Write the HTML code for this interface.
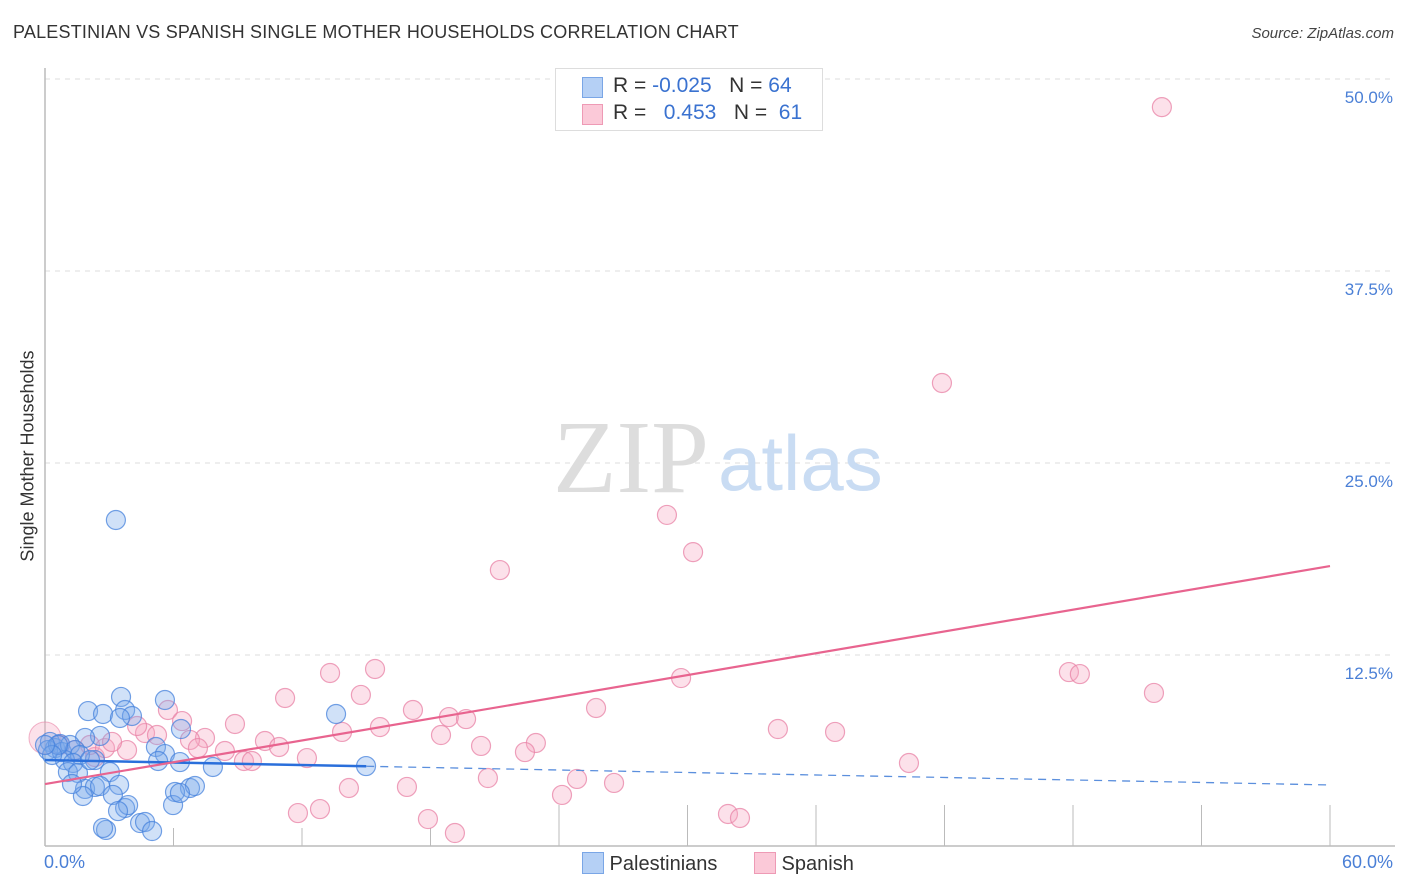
<!DOCTYPE html>
<html><head><meta charset="utf-8"><style>
body{margin:0;background:#fff;font-family:"Liberation Sans",sans-serif;}
#wrap{position:relative;width:1406px;height:892px;overflow:hidden}
.t{position:absolute;white-space:nowrap}
</style></head><body>
<div id="wrap">
<div class="t" style="left:13px;top:22px;font-size:18px;letter-spacing:0.2px;color:#333">PALESTINIAN VS SPANISH SINGLE MOTHER HOUSEHOLDS CORRELATION CHART</div>
<div class="t" style="right:12px;top:25px;font-size:15px;color:#444;font-style:italic">Source: ZipAtlas.com</div>
<svg id="svg" width="1406" height="892" style="position:absolute;left:0;top:0"></svg>
</div>
<script>
const xTicks=[0,6,12,18,24,30,36,42,48,54,60];
const yTicks=[12.5,25,37.5,50];
const yTickLabels=["12.5%","25.0%","37.5%","50.0%"];
const palX=[3.31,3.55,5.60,2.01,2.71,3.74,4.06,13.59,6.35,2.57,1.87,5.18,3.50,5.60,6.30,5.28,7.84,14.99,2.33,0.23,0.47,0.70,0.14,0.79,1.17,1.40,1.63,0.93,1.31,1.07,1.54,2.10,3.03,3.46,1.87,2.33,2.57,3.17,1.77,1.26,6.77,7.00,6.07,5.98,3.74,3.88,3.41,4.44,4.67,2.85,5.00,2.71,6.30,0.61,0.33,0.0];
const palY=[21.29,9.77,9.57,8.85,8.66,8.92,8.53,8.66,7.68,7.23,7.10,6.51,8.40,6.05,5.53,5.60,5.21,5.27,5.66,6.84,6.44,6.71,6.31,6.18,6.64,6.31,5.99,5.66,5.47,4.88,4.82,5.66,4.88,4.04,3.78,3.91,3.97,3.39,3.32,4.10,3.84,3.97,3.58,2.73,2.54,2.73,2.34,1.56,1.63,1.11,1.04,1.24,3.52,6.64,5.99,6.64];
const spaX=[52.15,41.88,29.04,30.26,21.24,15.41,13.31,29.70,47.81,48.32,51.78,11.21,14.75,17.18,25.73,18.86,19.66,5.74,6.40,8.87,15.64,13.87,18.49,34.22,36.89,4.67,5.23,10.27,7.47,6.77,8.40,10.93,7.14,3.83,20.36,22.92,22.41,12.23,9.29,9.66,40.34,20.68,24.84,26.57,16.90,14.19,24.14,12.84,11.81,31.89,32.45,17.88,19.14,0.70,1.40,2.33,2.10,2.80,3.13,4.30];
const spaY=[48.17,30.21,21.62,19.20,18.03,11.59,11.33,11.00,11.39,11.26,10.03,9.70,9.90,8.92,9.05,8.46,8.33,8.92,8.20,8.01,7.81,7.49,7.29,7.68,7.49,7.42,7.29,6.90,7.10,6.97,6.25,6.51,6.44,6.31,6.58,6.77,6.18,5.79,5.60,5.60,5.47,4.49,4.43,4.17,3.91,3.84,3.39,2.47,2.21,2.15,1.89,1.82,0.91,6.64,6.31,5.86,6.64,6.44,6.84,7.88];
const palTrend=[5.66,4.04]; const palSolidEnd=15;
const spaTrend=[4.10,18.29];
const sx=v=>45+v/60*1285, sy=v=>847-v/12.5*192;
const svg=document.getElementById('svg');const NS='http://www.w3.org/2000/svg';
function mk(tag,at,parent){const e=document.createElementNS(NS,tag);for(const k in at)e.setAttribute(k,at[k]);(parent||svg).appendChild(e);return e;}
yTicks.forEach((v,i)=>{
 const g=mk('line',{x1:45,x2:1395,y1:sy(v),y2:sy(v),stroke:'#ddd','stroke-dasharray':'5,5'});
 
 
 const t=mk('text',{x:1393,y:sy(v)+24,'text-anchor':'end','font-size':17,fill:'#4a7fd6','font-family':'Liberation Sans'});t.textContent=yTickLabels[i];
 
 
});
const ax=mk('line',{x1:45,x2:45,y1:68,y2:846,stroke:'#bbb','stroke-width':1.5});


const bx=mk('line',{x1:45,x2:1395,y1:846,y2:846,stroke:'#bbb','stroke-width':1.5});


xTicks.forEach(v=>{const tk=mk('line',{x1:sx(v),x2:sx(v),y1:v<=18?828:805,y2:846,stroke:'#bbb'});
 
 });
const wm1=mk('text',{x:553,y:492,'font-size':104,fill:'#ddd','font-family':'Liberation Serif'});wm1.textContent='ZIP';


const wm2=mk('text',{x:718,y:490,'font-size':78,fill:'#c9dcf3','font-family':'Liberation Sans'});wm2.textContent='atlas';


const big=mk('circle',{cx:sx(0),cy:sy(7.1),r:16,fill:'rgba(245,170,195,0.35)',stroke:'rgba(232,130,165,0.6)','stroke-width':1});


spaX.forEach((x,i)=>{const c=mk('circle',{cx:sx(x),cy:sy(spaY[i]),r:9.5,fill:'rgba(245,170,195,0.35)',stroke:'rgba(232,130,165,0.75)','stroke-width':1.2});
 
 });
palX.forEach((x,i)=>{const c=mk('circle',{cx:sx(x),cy:sy(palY[i]),r:9.5,fill:'rgba(120,170,235,0.35)',stroke:'rgba(70,130,220,0.75)','stroke-width':1.2});
 
 });
const pm=palTrend[0]+(palTrend[1]-palTrend[0])*palSolidEnd/60;
const l1=mk('line',{x1:sx(0),y1:sy(palTrend[0]),x2:sx(palSolidEnd),y2:sy(pm),stroke:'#2a6fdb','stroke-width':2.5});


const l2=mk('line',{x1:sx(palSolidEnd),y1:sy(pm),x2:sx(60),y2:sy(palTrend[1]),stroke:'#5b8fdd','stroke-width':1.3,'stroke-dasharray':'8,6'});


const l3=mk('line',{x1:sx(0),y1:sy(spaTrend[0]),x2:sx(60),y2:sy(spaTrend[1]),stroke:'#e8648f','stroke-width':2.2});


</script>
<div class="t" style="left:44px;top:852px;font-size:18px;color:#4a7fd6">0.0%</div>
<div class="t" style="right:13px;top:852px;font-size:18px;color:#4a7fd6">60.0%</div>
<div class="t" style="left:28px;top:456px;font-size:18px;color:#333;transform:translate(-50%,-50%) rotate(-90deg)">Single Mother Households</div>
<div style="position:absolute;left:555px;top:68px;width:266px;height:61px;border:1px solid #ddd;background:#fff;font-size:21px;color:#333">
 <div style="position:absolute;left:26px;top:8px;width:19px;height:19px;background:#b5d0f5;border:1px solid #7aa6e6"></div>
 <div class="t" style="left:57px;top:5px">R = <span style="color:#3a72d0">-0.025</span>&nbsp;&nbsp;&nbsp;N = <span style="color:#3a72d0">64</span></div>
 <div style="position:absolute;left:26px;top:35px;width:19px;height:19px;background:#fbc9d8;border:1px solid #ee9ab5"></div>
 <div class="t" style="left:57px;top:32px">R = &nbsp;&nbsp;<span style="color:#3a72d0">0.453</span>&nbsp;&nbsp;&nbsp;N = &nbsp;<span style="color:#3a72d0">61</span></div>
</div>
<div style="position:absolute;left:582px;top:852px;font-size:20px;color:#333">
 <div style="position:absolute;left:0;top:0;white-space:nowrap"><span style="display:inline-block;width:20px;height:20px;background:#b5d0f5;border:1px solid #7aa6e6;vertical-align:-4px"></span> Palestinians</div>
 <div style="position:absolute;left:172px;top:0;white-space:nowrap"><span style="display:inline-block;width:20px;height:20px;background:#fbc9d8;border:1px solid #ee9ab5;vertical-align:-4px"></span> Spanish</div>
</div>
</body></html>
